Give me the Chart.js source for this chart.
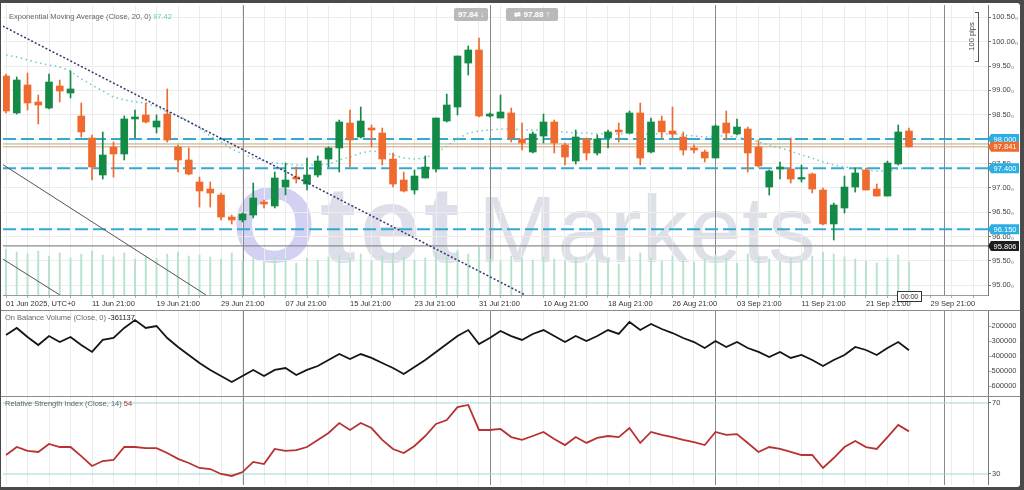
<!DOCTYPE html>
<html lang="en">
<head>
<meta charset="UTF-8">
<meta name="viewport" content="width=device-width, initial-scale=1.0">
<title>OtetMarkets - daily chart</title>
<script src="https://cdn.jsdelivr.net/npm/chart.js"></script>
<style>
    body { margin: 0; width: 1024px; height: 490px; overflow: hidden; background-color: #4a4a4a; font-family: "Liberation Sans", Arial, sans-serif; }
    .panel { position: absolute; left: 1px; top: 3px; width: 1019px; height: 484px; background-color: #ffffff; border-radius: 0 3px 3px 0; overflow: hidden; }
    .pane { position: absolute; left: -1px; width: 1020px; z-index: 1; }
    .pane canvas { position: absolute; left: 0; top: 0; }
    #main-pane { top: 0; height: 307px; }
    #obv-pane { top: 307px; height: 85px; border-top: 1px solid #8c8c8c; }
    #rsi-pane { top: 393px; height: 88px; border-top: 1px solid #8c8c8c; }
    .label { position: absolute; font-size: 7.5px; color: #666; white-space: nowrap; z-index: 3; }
    .mark { position: absolute; white-space: nowrap; z-index: 0; }
    .btn { position: absolute; top: 5px; height: 13px; line-height: 13px; background-color: #b9b9b9; color: #fff; font-size: 8px; font-weight: bold; text-align: center; border-radius: 2px; z-index: 3; }
    .pips { position: absolute; left: 974px; top: 9px; width: 3px; height: 48px; border: 1px solid #555; border-left: none; z-index: 3; }
    .pips-text { position: absolute; left: 950px; top: 29px; width: 40px; font-size: 7.5px; color: #444; transform: rotate(-90deg); text-align: center; z-index: 3; }
    .clock { position: absolute; left: 896px; top: 288px; width: 23px; height: 9px; line-height: 9px; border: 1px solid #333; background: #fff; font-size: 7px; color: #222; text-align: center; z-index: 3; }
</style>
</head>
<body>
<div class="panel">
    <div class="mark" style="left:231px; top:168px; font-size:108px; line-height:108px; font-weight:bold; letter-spacing:4px;"><span style="color:#d3d1f3">O</span><span style="color:#dcdee9">tet</span></div>
    <div class="mark" style="left:477px; top:179px; font-size:95px; line-height:95px; color:#dee0e8;">Markets</div>

    <div class="pane" id="main-pane"><canvas id="main-chart" width="1020" height="307"></canvas></div>
    <div class="pane" id="obv-pane"><canvas id="obv-chart" width="1020" height="85"></canvas></div>
    <div class="pane" id="rsi-pane"><canvas id="rsi-chart" width="1020" height="88"></canvas></div>

    <div class="label" style="left:8px; top:9px;">Exponential Moving Average (Close, 20, 0) <span style="color:#63cbbd">97.42</span></div>
    <div class="label" style="left:4px; top:310px;">On Balance Volume (Close, 0) <span style="color:#222">-361137</span></div>
    <div class="label" style="left:4px; top:396px;">Relative Strength Index (Close, 14) <span style="color:#b03434">54</span></div>

    <div class="btn" style="left:453px; width:34px;">97.84 &#8595;</div>
    <div class="btn" style="left:505px; width:52px;">&#8644; 97.88 &#8593;</div>
    <div class="pips"></div>
    <div class="pips-text">100 pips</div>
    <div class="clock">00:00</div>
</div>

<script>
    // daily candles, 85 sessions (index 0 = 1st June candle)
    const opens  = [99.295, 98.536, 99.111, 98.762, 98.638, 99.090, 98.946, 98.474, 98.022, 97.263,
                    97.838, 97.694, 98.413, 98.495, 98.248, 98.515, 97.838, 97.571, 97.119, 96.975,
                    96.852, 96.400, 96.339, 96.441, 96.708, 96.626, 97.016, 97.221, 97.078, 97.263,
                    97.591, 97.817, 98.330, 98.043, 98.228, 98.125, 97.591, 97.160, 96.955, 97.201,
                    97.386, 98.371, 98.659, 99.562, 99.829, 98.474, 98.433, 98.536, 98.002, 97.735,
                    98.063, 98.351, 97.879, 97.550, 98.002, 97.714, 98.022, 98.187, 98.125, 98.536,
                    97.735, 98.371, 98.166, 98.043, 97.817, 97.735, 97.612, 98.330, 98.105, 98.207,
                    97.838, 97.016, 97.386, 97.386, 97.180, 97.283, 96.955, 96.257, 96.585, 97.016,
                    97.365, 96.975, 96.831, 97.489, 98.166];
    const highs  = [99.337, 99.275, 99.357, 98.905, 99.337, 99.213, 99.398, 98.741, 98.084, 98.146,
                    97.940, 98.474, 98.597, 98.741, 98.495, 99.029, 97.879, 97.817, 97.221, 97.119,
                    96.893, 96.441, 96.482, 97.098, 96.749, 97.324, 97.509, 97.427, 97.612, 97.653,
                    97.838, 98.392, 98.597, 98.659, 98.289, 98.228, 97.714, 97.324, 97.365, 97.653,
                    98.433, 98.926, 99.706, 99.911, 100.076, 98.536, 98.905, 98.638, 98.330, 98.146,
                    98.515, 98.392, 97.920, 98.187, 98.022, 98.084, 98.187, 98.330, 98.577, 98.741,
                    98.433, 98.474, 98.659, 98.146, 97.879, 97.776, 98.289, 98.577, 98.413, 98.248,
                    97.981, 97.365, 97.530, 98.022, 97.468, 97.304, 96.996, 96.688, 97.242, 97.406,
                    97.406, 97.078, 97.550, 98.289, 98.228];
    const lows   = [98.536, 98.515, 98.597, 98.310, 98.620, 98.762, 98.844, 98.043, 97.160, 97.180,
                    97.221, 97.571, 98.022, 98.330, 98.125, 97.940, 97.324, 97.263, 96.605, 96.605,
                    96.339, 96.257, 96.298, 96.380, 96.585, 96.585, 96.852, 97.098, 96.955, 97.221,
                    97.427, 97.324, 97.427, 98.022, 97.838, 97.468, 97.016, 96.913, 96.872, 97.201,
                    97.324, 98.351, 98.495, 99.316, 98.454, 98.454, 98.433, 97.940, 97.776, 97.714,
                    97.920, 97.714, 97.468, 97.489, 97.571, 97.673, 97.817, 97.940, 98.105, 97.468,
                    97.714, 98.022, 98.022, 97.673, 97.714, 97.530, 97.612, 97.981, 98.084, 97.324,
                    97.427, 96.852, 97.180, 97.098, 97.119, 96.893, 96.236, 95.928, 96.482, 96.913,
                    96.955, 96.831, 96.831, 97.468, 97.838];
    const closes = [98.577, 99.213, 98.741, 98.700, 99.172, 98.987, 99.029, 98.146, 97.427, 97.673,
                    97.694, 98.413, 98.454, 98.351, 98.371, 97.981, 97.571, 97.283, 96.934, 96.893,
                    96.400, 96.339, 96.462, 96.790, 96.667, 97.201, 97.160, 97.180, 97.263, 97.550,
                    97.817, 98.351, 97.981, 98.371, 98.187, 97.591, 97.078, 96.934, 97.242, 97.427,
                    98.433, 98.700, 99.706, 99.829, 98.474, 98.515, 98.556, 98.022, 97.920, 98.105,
                    98.351, 97.920, 97.632, 98.043, 97.714, 98.002, 98.146, 98.146, 98.536, 97.612,
                    98.351, 98.146, 98.105, 97.776, 97.776, 97.612, 98.269, 98.125, 98.248, 97.714,
                    97.448, 97.345, 97.427, 97.180, 97.201, 96.975, 96.257, 96.647, 97.016, 97.304,
                    96.955, 96.831, 97.509, 98.146, 97.841];
    const emaValues = [99.727, 99.686, 99.624, 99.562, 99.521, 99.480, 99.398, 99.234, 99.111, 98.987,
                       98.864, 98.803, 98.762, 98.741, 98.659, 98.556, 98.474, 98.371, 98.228, 98.063,
                       97.940, 97.797, 97.694, 97.612, 97.550, 97.509, 97.489, 97.468, 97.468, 97.468,
                       97.489, 97.571, 97.632, 97.714, 97.755, 97.735, 97.673, 97.612, 97.591, 97.612,
                       97.714, 97.858, 98.002, 98.125, 98.166, 98.187, 98.207, 98.207, 98.187, 98.187,
                       98.187, 98.166, 98.146, 98.125, 98.125, 98.105, 98.105, 98.105, 98.125, 98.105,
                       98.105, 98.105, 98.105, 98.084, 98.063, 98.043, 98.063, 98.063, 98.043, 98.002,
                       97.940, 97.879, 97.817, 97.755, 97.673, 97.612, 97.530, 97.468, 97.427, 97.406,
                       97.365, 97.345, 97.345, 97.386, 97.420];
    const volumes = [46, 43, 41, 44, 39, 42, 37, 41, 44, 40,
                     38, 42, 36, 39, 37, 41, 43, 39, 40, 38,
                     36, 42, 34, 37, 33, 39, 36, 32, 37, 35,
                     38, 40, 37, 41, 34, 39, 42, 38, 35, 37,
                     43, 40, 45, 41, 48, 36, 34, 39, 37, 35,
                     38, 36, 34, 37, 32, 35, 36, 31, 38, 42,
                     37, 34, 39, 35, 33, 36, 40, 37, 32, 41,
                     38, 36, 34, 37, 35, 39, 43, 41, 38, 36,
                     34, 32, 37, 40, 33];
    const obvValues = [-260000, -213000, -273000, -327000, -267000, -307000, -273000, -327000, -373000, -293000,
                       -280000, -213000, -160000, -213000, -200000, -280000, -340000, -393000, -447000, -493000,
                       -533000, -573000, -533000, -493000, -533000, -493000, -480000, -527000, -493000, -467000,
                       -427000, -387000, -420000, -387000, -413000, -447000, -480000, -520000, -473000, -427000,
                       -373000, -320000, -267000, -227000, -320000, -280000, -233000, -267000, -293000, -253000,
                       -227000, -267000, -307000, -267000, -300000, -267000, -227000, -253000, -173000, -227000,
                       -187000, -220000, -247000, -280000, -307000, -347000, -300000, -340000, -307000, -347000,
                       -373000, -407000, -373000, -413000, -393000, -427000, -467000, -427000, -393000, -340000,
                       -360000, -393000, -347000, -307000, -361137];
    const rsiValues = [40.7, 45.2, 43.0, 42.4, 46.9, 45.2, 45.2, 40.1, 34.5, 37.3,
                       37.9, 45.2, 45.2, 44.6, 44.6, 41.8, 38.5, 36.2, 33.4, 32.8,
                       30.0, 28.9, 31.1, 36.8, 35.6, 44.1, 43.0, 43.5, 45.2, 49.2,
                       53.1, 58.7, 54.8, 58.7, 55.9, 49.2, 44.1, 41.8, 45.8, 51.4,
                       58.2, 60.4, 67.7, 68.9, 54.8, 54.8, 55.4, 50.8, 49.2, 51.4,
                       53.7, 49.7, 46.3, 50.8, 47.5, 50.3, 51.4, 50.8, 55.9, 47.5,
                       53.7, 52.0, 50.8, 49.2, 48.0, 46.3, 53.7, 52.0, 52.5, 47.5,
                       42.4, 45.2, 44.1, 42.4, 40.7, 40.7, 33.4, 39.0, 45.2, 48.6,
                       45.2, 44.1, 50.8, 57.6, 54.0];

    // time axis labels (candle index where each label starts)
    const xTickIndex = [0, 8, 14, 20, 26, 32, 38, 44, 50, 56, 62, 68, 74, 80, 86];
    const xTickText = ['01 Jun 2025, UTC+0', '11 Jun 21:00', '19 Jun 21:00', '29 Jun 21:00', '07 Jul 21:00',
                       '15 Jul 21:00', '23 Jul 21:00', '31 Jul 21:00', '10 Aug 21:00', '18 Aug 21:00',
                       '26 Aug 21:00', '03 Sep 21:00', '11 Sep 21:00', '21 Sep 21:00', '29 Sep 21:00'];
    const monthStarts = [22, 45, 66, 87.3];
    const priceTicks = [95.0, 95.5, 96.0, 96.5, 97.0, 97.5, 98.0, 98.5, 99.0, 99.5, 100.0, 100.5];
    const obvTicks = [-600000, -500000, -400000, -300000, -200000];
    const rsiTicks = [30, 70];

    // drawn levels and trend lines
    const cyanLevels = [98.000, 97.400, 96.150];
    const bidPrice = 97.841;
    const askPrice = 97.90;
    const markPrice = 95.806;
    const tagValues = [98.000, 97.841, 97.400, 96.150, 95.806];
    const tagKinds = ['level', 'bid', 'level', 'level', 'mark'];
    const dottedTrend = [[-0.3, 100.32], [48.3, 94.80]];
    const channelUpper = [[-0.6, 97.52], [18.6, 94.80]];
    const channelLower = [[-0.6, 95.58], [5.0, 94.80]];

    const xMin = -0.28, xMax = 91.35;
    const green = '#138a46';
    const orange = '#ee6a2e';
    const tickFont = { family: 'Liberation Sans', size: 7.5 };
    const gridIndex = [];
    for (let i = 0; i <= 90; i += 2) gridIndex.push(i);

    const separators = {
        id: 'separators',
        beforeDatasetsDraw(chart) {
            const { ctx, chartArea, scales } = chart;
            ctx.save();
            ctx.strokeStyle = '#8a8a8a';
            ctx.lineWidth = 1;
            monthStarts.forEach(v => {
                const x = Math.round(scales.x.getPixelForValue(v)) + 0.5;
                ctx.beginPath();
                ctx.moveTo(x, chartArea.top);
                ctx.lineTo(x, chartArea.bottom);
                ctx.stroke();
            });
            ctx.restore();
        }
    };

    const priceTags = {
        id: 'priceTags',
        afterDraw(chart) {
            const { ctx } = chart;
            const y = chart.scales.y;
            const fill = { level: '#2aaee3', bid: orange, mark: '#1d1d1d' };
            ctx.save();
            ctx.font = '7.5px "Liberation Sans"';
            ctx.textAlign = 'center';
            ctx.textBaseline = 'middle';
            tagValues.forEach((v, i) => {
                const py = y.getPixelForValue(v);
                const left = y.left + 3, w = 28, h = 10;
                ctx.fillStyle = fill[tagKinds[i]];
                ctx.beginPath();
                ctx.moveTo(left - 3, py);
                ctx.lineTo(left, py - h / 2);
                ctx.lineTo(left + w, py - h / 2);
                ctx.lineTo(left + w, py + h / 2);
                ctx.lineTo(left, py + h / 2);
                ctx.closePath();
                ctx.fill();
                ctx.fillStyle = '#ffffff';
                ctx.fillText(v.toFixed(3), left + w / 2, py + 0.5);
            });
            ctx.restore();
        }
    };

    function xAxis(showLabels) {
        return {
            type: 'linear', min: xMin, max: xMax, offset: false,
            afterBuildTicks: s => { s.ticks = gridIndex.map(v => ({ value: v })); },
            afterFit: s => { s.height = showLabels ? 15 : 0; s.paddingLeft = 0; s.paddingRight = 0; },
            grid: { color: '#ececec', offset: false, drawTicks: showLabels, tickLength: 3, tickColor: '#b0b0b0' },
            border: { display: showLabels, color: '#9a9a9a' },
            ticks: {
                display: showLabels, autoSkip: false, maxRotation: 0, minRotation: 0, align: 'start',
                padding: 1, color: '#333', font: tickFont,
                callback: v => { const k = xTickIndex.indexOf(v); return k < 0 ? '' : xTickText[k]; }
            }
        };
    }

    function yAxis(min, max, ticks, fmt, drawGrid, tickLen) {
        return {
            position: 'right', min: min, max: max,
            afterBuildTicks: s => { s.ticks = ticks.map(v => ({ value: v })); },
            afterFit: s => { s.width = 32; s.paddingTop = 0; s.paddingBottom = 0; },
            grid: { color: '#ececec', drawOnChartArea: drawGrid, drawTicks: tickLen > 0, tickLength: tickLen, tickColor: '#777' },
            border: { color: '#777' },
            ticks: { padding: 1, color: '#444', font: tickFont, callback: fmt }
        };
    }

    function hLine(v, color, width, dash, order) {
        return { type: 'line', data: [{ x: xMin, y: v }, { x: xMax, y: v }], borderColor: color, borderWidth: width,
                 borderDash: dash, pointRadius: 0, order: order };
    }

    function segment(pts, color, width, dash) {
        return { type: 'line', data: pts.map(p => ({ x: p[0], y: p[1] })), borderColor: color, borderWidth: width,
                 borderDash: dash, pointRadius: 0, order: 0 };
    }

    const candleColors = closes.map((c, i) => c >= opens[i] ? green : orange);
    const baseOptions = {
        animation: false,
        responsive: false,
        events: [],
        plugins: { legend: { display: false }, tooltip: { enabled: false } }
    };

    new Chart(document.getElementById('main-chart'), {
        type: 'bar',
        data: {
            datasets: [
                segment(dottedTrend, '#3a3470', 1.5, [2, 2]),
                segment(channelUpper, '#555555', 1, []),
                segment(channelLower, '#555555', 1, []),
                {
                    type: 'bar', data: opens.map((o, i) => ({ x: i, y: [o, closes[i]] })),
                    backgroundColor: candleColors, barThickness: 7, minBarLength: 1.5, grouped: false, order: 1
                },
                {
                    type: 'bar', data: lows.map((l, i) => ({ x: i, y: [l, highs[i]] })),
                    backgroundColor: candleColors, barThickness: 1, grouped: false, order: 2
                },
                {
                    type: 'line', data: emaValues.map((v, i) => ({ x: i, y: v })),
                    borderColor: '#6ccaca', borderWidth: 1.5, borderDash: [1.5, 3.5], pointRadius: 0, order: 3
                },
                ...cyanLevels.map(v => hLine(v, '#36a9d3', 2, [13, 5], 5)),
                hLine(askPrice, '#9fb08a', 1, [], 5),
                hLine(bidPrice, '#dd9a6e', 1, [], 5),
                hLine(markPrice, '#8c8c8c', 1.2, [], 5),
                {
                    type: 'bar', yAxisID: 'yv', data: volumes.map((v, i) => ({ x: i, y: v })),
                    backgroundColor: '#b5e2cb', barThickness: 1.2, grouped: false, order: 9
                }
            ]
        },
        options: {
            ...baseOptions,
            layout: { padding: { left: 3, top: 2, right: 0, bottom: 0 } },
            scales: {
                x: xAxis(true),
                y: yAxis(94.799, 100.753, priceTicks, v => v.toFixed(2) + '\u2080', true, 3),
                yv: { type: 'linear', display: false, min: 0, max: 290 }
            }
        },
        plugins: [separators, priceTags]
    });

    new Chart(document.getElementById('obv-chart'), {
        type: 'line',
        data: {
            datasets: [{
                data: obvValues.map((v, i) => ({ x: i, y: v })),
                borderColor: '#151515', borderWidth: 1.8, pointRadius: 0, tension: 0
            }]
        },
        options: {
            ...baseOptions,
            layout: { padding: { left: 3, top: 0, right: 0, bottom: 0 } },
            scales: {
                x: xAxis(false),
                y: yAxis(-666667, -100000, obvTicks, v => String(v), false, 0)
            }
        },
        plugins: [separators]
    });

    new Chart(document.getElementById('rsi-chart'), {
        type: 'line',
        data: {
            datasets: [
                {
                    data: rsiValues.map((v, i) => ({ x: i, y: v })),
                    borderColor: '#b83232', borderWidth: 1.8, pointRadius: 0, tension: 0, order: 0
                },
                ...rsiTicks.map(v => hLine(v, '#9fd8d8', 1, [], 1))
            ]
        },
        options: {
            ...baseOptions,
            layout: { padding: { left: 3, top: 0, right: 0, bottom: 0 } },
            scales: {
                x: xAxis(false),
                y: yAxis(23.80, 73.38, rsiTicks, v => String(v), false, 3)
            }
        },
        plugins: [separators]
    });
</script>
</body>
</html>
